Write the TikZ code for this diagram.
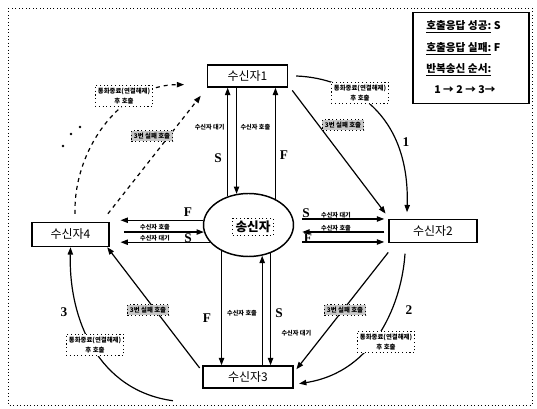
\documentclass[tikz,border=0pt]{standalone}
\usepackage{fontspec}
\setmainfont{Liberation Serif}
\newfontfamily\kr{Noto Sans CJK KR}
\usetikzlibrary{arrows.meta,calc,shapes.geometric}
\tikzset{
  >={Triangle[length=5.5pt,width=4pt]},
  rbox/.style={draw,line width=1.1pt,fill=white,inner sep=0pt,font=\kr\fontsize{9}{10}\selectfont},
  gbox/.style={draw,dotted,line width=0.8pt,fill=black!22,inner sep=1.8pt,font=\kr\bfseries\fontsize{4.8}{5.5}\selectfont},
  dbox/.style={draw,dotted,line width=0.8pt,fill=white,inner sep=2pt,align=center,font=\kr\bfseries\fontsize{4.8}{7.5}\selectfont},
  lab/.style={font=\kr\bfseries\fontsize{4.6}{5}\selectfont,inner sep=1pt},
  sf/.style={font=\bfseries\fontsize{10}{11}\selectfont,inner sep=0pt},
  legt/.style={anchor=west,inner sep=0pt,font=\kr\bfseries\fontsize{8}{9}\selectfont},
  arr/.style={->,line width=0.9pt},
  darr/.style={arr,dashed,dash pattern=on 3pt off 3pt},
}

\begin{document}
\begin{tikzpicture}[x=0.75pt,y=-0.75pt]
\useasboundingbox (0,0) rectangle (537,409);
\draw[dotted,line width=0.6pt] (8,8) rectangle (532,405);

% legend
\node[draw,line width=1.1pt,minimum width=87pt,minimum height=68pt,inner sep=0pt] (leg) at (471,58) {};
\node[legt] (leg1) at (426,27) {\underline{호출응답 성공:} S};
\node[legt] (leg2) at (426,49) {\underline{호출응답 실패:} F};
\node[legt] (leg3) at (426,70) {\underline{반복송신 순서:}};
\node[legt] (leg4) at (434,90) {1 → 2 → 3→};

% receivers and sender
\node[rbox,minimum width=60pt,minimum height=16.5pt] (r1) at (247.5,76) {수신자1};
\node[rbox,minimum width=66pt,minimum height=17pt] (r2) at (433,231) {수신자2};
\node[rbox,minimum width=67.5pt,minimum height=16.5pt] (r3) at (248,377) {수신자3};
\node[rbox,minimum width=58pt,minimum height=18pt] (r4) at (70.5,234.5) {수신자4};
\node[ellipse,draw,line width=1.1pt,minimum width=67.5pt,minimum height=47.25pt,inner sep=0pt] (snd) at (248.5,225) {};
\node[draw,dotted,line width=0.8pt,inner sep=2pt,font=\kr\bfseries\fontsize{9.5}{10}\selectfont] (sndt) at (253,227) {송신자};

% sender <-> receiver1
\draw[arr] (snd.126) -- (snd.126 |- r1.south);
\draw[arr] (snd.111 |- r1.south) -- (snd.111);
\draw[arr] (snd.44) -- (snd.44 |- r1.south);
\node[lab,anchor=east] (t1a) at (226,127) {수신자 대기};
\node[lab,anchor=west] (t1b) at (239,127) {수신자 호출};
\node[sf] (s1) at (218,158) {S};
\node[sf] (f1) at (284,155) {F};

% sender <-> receiver2
\draw[arr,shorten <=6pt,shorten >=3pt] ([yshift=4.5pt]snd.east) -- ([yshift=4.5pt]snd.east -| r2.west);
\draw[arr,shorten <=3pt,shorten >=6pt] ([yshift=-5.25pt]snd.east -| r2.west) -- ([yshift=-5.25pt]snd.east);
\draw[arr,shorten <=6pt,shorten >=3pt] ([yshift=-12.75pt]snd.east) -- ([yshift=-12.75pt]snd.east -| r2.west);
\node[lab] (t2a) at (336,215) {수신자 대기};
\node[lab] (t2b) at (336,228) {수신자 호출};
\node[sf] (s2) at (306,213) {S};
\node[sf] (f2) at (308,238) {F};

% sender <-> receiver4
\draw[arr,shorten >=8pt] (snd.174) -- (snd.174 -| r4.east);
\draw[arr,shorten <=10.5pt] (snd.189 -| r4.east) -- (snd.189);
\draw[arr,shorten >=8pt] (snd.204) -- (snd.204 -| r4.east);
\node[lab] (t4a) at (155,227) {수신자 호출};
\node[lab] (t4b) at (155,238) {수신자 대기};
\node[sf] (f4) at (188,212) {F};
\node[sf] (s4) at (188,238) {S};

% sender <-> receiver3
\draw[arr] (snd.224) -- (snd.224 |- r3.north);
\draw[arr] (snd.294 |- r3.north) -- (snd.294);
\draw[arr] (snd.308) -- (snd.308 |- r3.north);
\node[lab] (t3a) at (242,313) {수신자 호출};
\node[lab,anchor=west] (t3b) at (280,333) {수신자 대기};
\node[sf] (f3) at (207,318) {F};
\node[sf] (s3) at (279,313) {S};

% repeat order
\draw[arr] ([shift={(3pt,-2pt)}]r1.south east) -- ([shift={(-2pt,4pt)}]r2.north west);
\draw[arr] ([xshift=6pt]r1.east) .. controls +(54,2) and +(3,-99) .. ([shift={(-19.5pt,5pt)}]r2.north);
\draw[arr] ([yshift=-7pt]r2.south west) -- ([shift={(2pt,-3pt)}]r3.north east);
\draw[arr] ([shift={(-21pt,-8pt)}]r2.south) .. controls +(-3,47) and +(77,-12) .. ([shift={(4pt,-5pt)}]r3.east);
\draw[arr] ([shift={(-2pt,-2pt)}]r3.north west) -- ([xshift=-2pt]r4.south east);
\draw[arr] ([shift={(-22pt,-9pt)}]r3.south west) .. controls +(-74,-10) and +(-2,73) .. (r4.south);
\draw[darr] ([shift={(-1.5pt,6pt)}]r4.north east) -- ([shift={(-4.5pt,-6pt)}]r1.south west);
\draw[darr] ([shift={(3.4pt,6pt)}]r4.north) .. controls +(-2,-62) and +(-65,0) .. ([shift={(-17pt,-6.5pt)}]r1.west);
\foreach \p in {(63,146),(71,134),(80,127)} \fill \p circle (1.1pt);

\node[gbox] (g12) at (343,125) {3번 실패 호출};
\node[gbox] (g23) at (345,310) {3번 실패 호출};
\node[gbox] (g34) at (148,310) {3번 실패 호출};
\node[gbox] (g41) at (152,136) {3번 실패 호출};
\node[dbox] (d12) at (360,93) {통화종료(연결해제)\\후 호출};
\node[dbox] (d23) at (386,342) {통화종료(연결해제)\\후 호출};
\node[dbox] (d34) at (95,345) {통화종료(연결해제)\\후 호출};
\node[dbox] (d41) at (124,96) {통화종료(연결해제)\\후 호출};
\node[sf] (n1) at (406,142) {1};
\node[sf] (n2) at (409,310) {2};
\node[sf] (n3) at (64,312) {3};
\end{tikzpicture}
\end{document}
